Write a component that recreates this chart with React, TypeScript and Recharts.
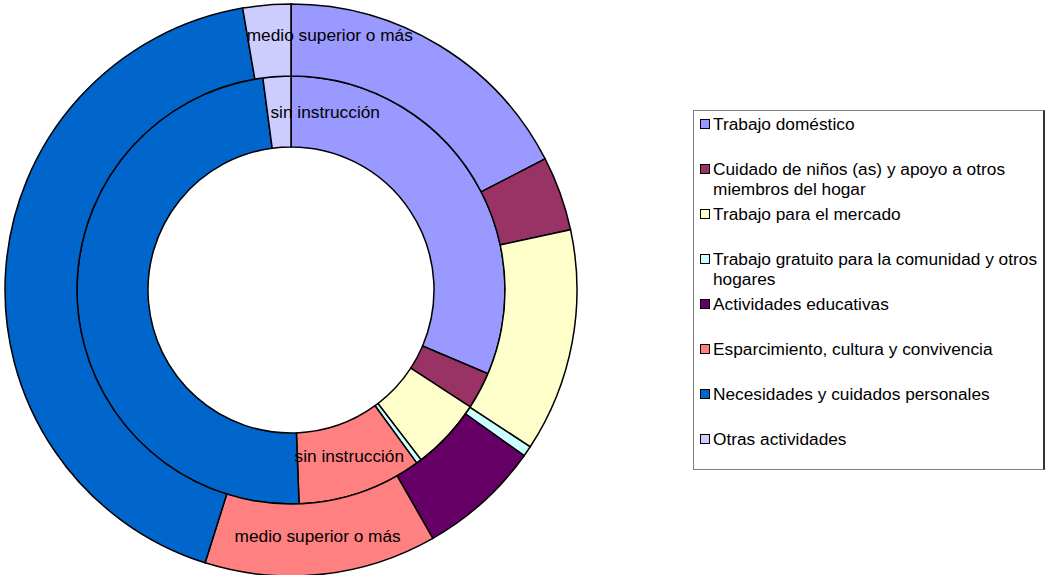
import { PieChart, Pie, Cell } from 'recharts';

const categorias = [
  'Trabajo doméstico',
  'Cuidado de niños (as) y apoyo a otros miembros del hogar',
  'Trabajo para el mercado',
  'Trabajo gratuito para la comunidad y otros hogares',
  'Actividades educativas',
  'Esparcimiento, cultura y convivencia',
  'Necesidades y cuidados personales',
  'Otras actividades',
];

// porcentaje del tiempo por nivel de instrucción
const sinInstruccion = [31.4, 2.8, 5.4, 0.4, 0, 9.4, 48.5, 2.1];
const medioSuperior = [17.4, 4.2, 12.6, 0.6, 6.9, 13.1, 42.4, 2.7];

const colores = ['#9999FF', '#993366', '#FFFFCC', '#CCFFFF', '#660066', '#FF8080', '#0066CC', '#CCCCFF'];

const innerData = categorias.map((name, i) => ({ name, value: sinInstruccion[i] }));
const outerData = categorias.map((name, i) => ({ name, value: medioSuperior[i] }));

const FONT = '"Liberation Sans", Arial, sans-serif';

// Excel only labels two points per ring; the top one is nudged right
const makeLabel = (text: string, shiftX: number, shiftY: number) => (props: any) => {
  const { cx, cy, midAngle, innerRadius, outerRadius, index } = props;
  if (index !== 5 && index !== 7) return null;
  const r = (innerRadius + outerRadius) / 2;
  const rad = (Math.PI / 180) * midAngle;
  let x = cx + r * Math.cos(rad);
  let y = cy - r * Math.sin(rad) - 3;
  if (index === 7) {
    x += shiftX;
    y += shiftY;
  }
  return (
    <text x={x} y={y} textAnchor="middle" dominantBaseline="central" fill="#000" fontSize={17.3} fontFamily={FONT}>
      {text}
    </text>
  );
};

export default function App() {
  return (
    <div style={{ position: 'absolute', left: 0, top: 0, width: 1046, height: 575, background: '#fff' }}>
      <PieChart width={1046} height={575} margin={{ top: 0, right: 0, bottom: 0, left: 0 }}>
        <Pie
          data={innerData}
          dataKey="value"
          cx={291}
          cy={290}
          innerRadius={143}
          outerRadius={214}
          startAngle={90}
          endAngle={-270}
          stroke="#000"
          strokeWidth={1.5}
          label={makeLabel('sin instrucción', 46, 3)}
          labelLine={false}
          isAnimationActive={false}
        >
          {innerData.map((d, i) => (
            <Cell key={d.name} fill={colores[i]} />
          ))}
        </Pie>
        <Pie
          data={outerData}
          dataKey="value"
          cx={291}
          cy={290}
          innerRadius={214}
          outerRadius={286}
          startAngle={90}
          endAngle={-270}
          stroke="#000"
          strokeWidth={1.5}
          label={makeLabel('medio superior o más', 60, -3)}
          labelLine={false}
          isAnimationActive={false}
        >
          {outerData.map((d, i) => (
            <Cell key={d.name} fill={colores[i]} />
          ))}
        </Pie>
      </PieChart>
      <div
        style={{
          position: 'absolute',
          left: 693,
          top: 110,
          width: 352,
          height: 360,
          border: '1px solid #808080',
          borderRight: '2px solid #333',
          boxSizing: 'border-box',
          fontFamily: FONT,
          fontSize: 17.3,
          color: '#000',
        }}
      >
        {categorias.map((c, i) => (
          <div
            key={c}
            style={{ position: 'absolute', left: 6, top: 3 + i * 45, display: 'flex', alignItems: 'flex-start', width: 340 }}
          >
            <span
              style={{
                width: 10,
                height: 10,
                marginTop: 5,
                marginRight: 3,
                flexShrink: 0,
                background: colores[i],
                border: '1px solid #000',
                boxSizing: 'border-box',
              }}
            />
            <span style={{ lineHeight: '20px' }}>{c}</span>
          </div>
        ))}
      </div>
    </div>
  );
}
